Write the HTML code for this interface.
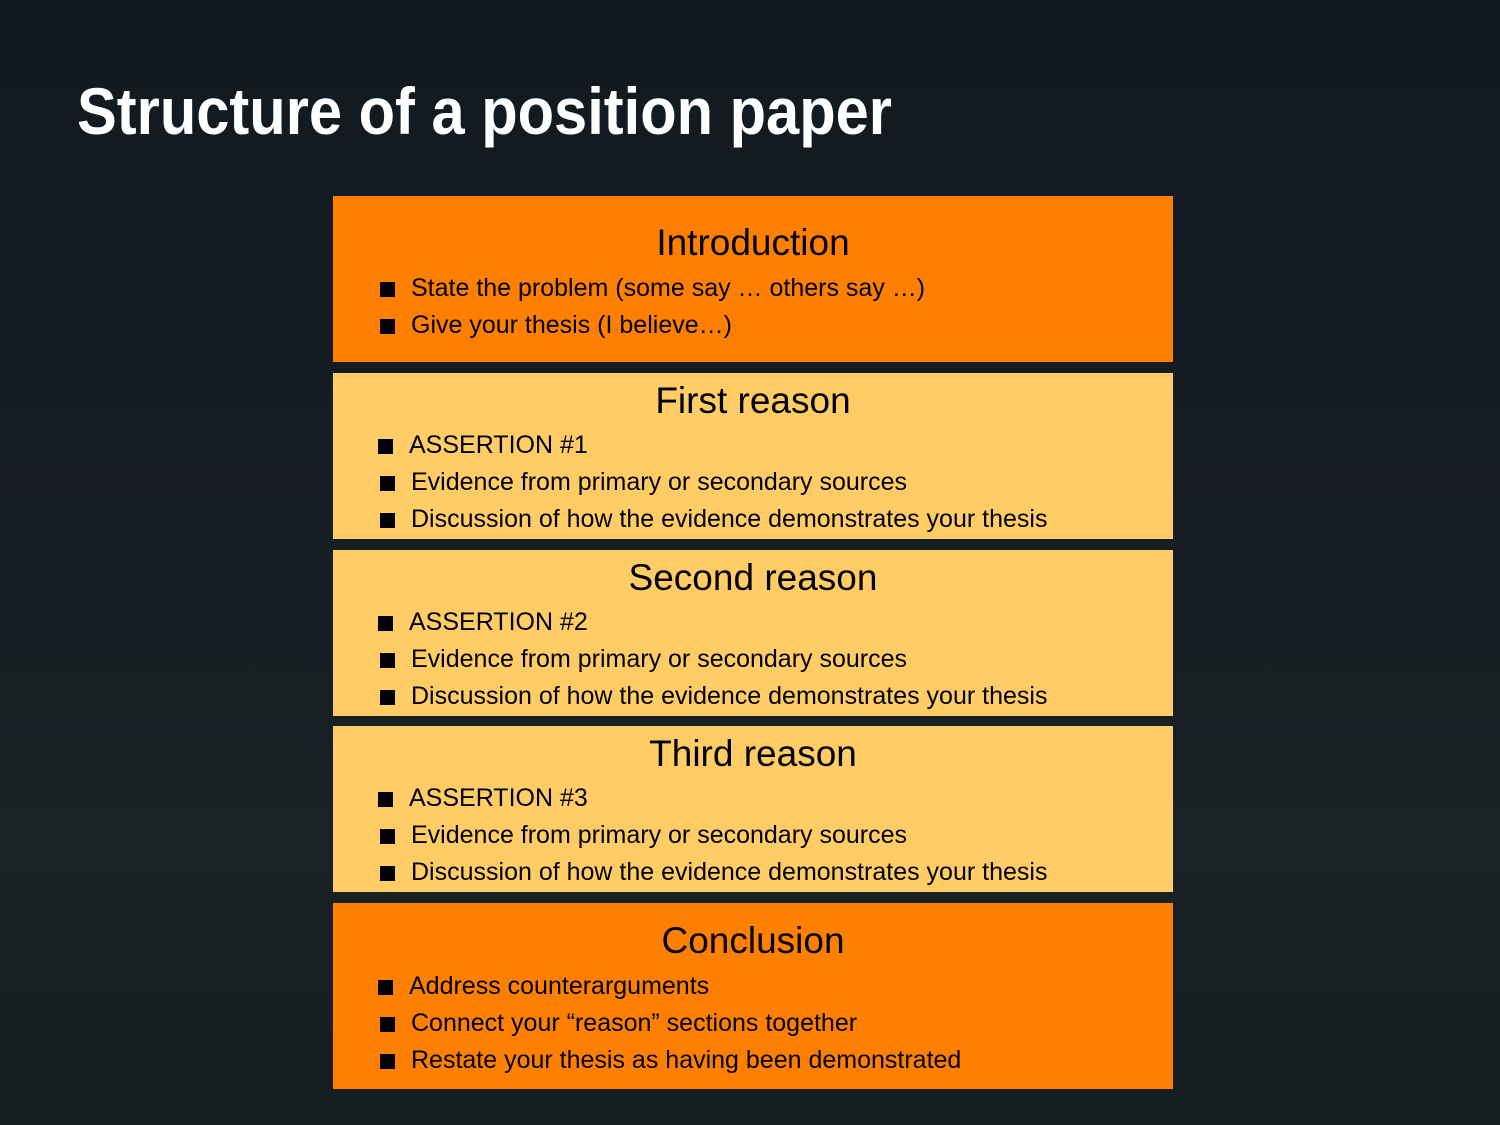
<!DOCTYPE html>
<html><head><meta charset="utf-8"><style>
html,body{margin:0;padding:0}
body{width:1500px;height:1125px;position:relative;overflow:hidden;background:linear-gradient(180deg,#121920 0%,#151c22 40%,#1a2226 75%,#161d21 100%);font-family:"Liberation Sans",Arial,sans-serif}
.box{position:absolute;left:333px;width:840px;color:#000}
.o{background:#ff8000}.y{background:#ffcc66}
.h{position:absolute;left:0;width:100%;text-align:center;font-size:37px;line-height:40px}
.b{position:absolute;left:78px;font-size:25px;line-height:30px;white-space:nowrap}
.b:before{content:"";position:absolute;left:-31px;top:9px;width:15px;height:15px;background:#000}
</style></head><body>
<svg style="position:absolute;left:0;top:0" width="1500" height="200">
<text x="77" y="134" font-family="Liberation Sans, sans-serif" font-size="66" font-weight="bold" fill="#fff" textLength="815" lengthAdjust="spacingAndGlyphs">Structure of a position paper</text>
</svg>

<div class="box o" style="top:196px;height:166px">
<div class="h" style="top:27px">Introduction</div>
<div class="b" style="top:77px">State the problem (some say … others say …)</div>
<div class="b" style="top:114px">Give your thesis (I believe…)</div>
</div>

<div class="box y" style="top:373px;height:166px">
<div class="h" style="top:8px">First reason</div>
<div class="b" style="top:57px;left:76px">ASSERTION #1</div>
<div class="b" style="top:94px">Evidence from primary or secondary sources</div>
<div class="b" style="top:131px">Discussion of how the evidence demonstrates your thesis</div>
</div>

<div class="box y" style="top:550px;height:166px">
<div class="h" style="top:8px">Second reason</div>
<div class="b" style="top:57px;left:76px">ASSERTION #2</div>
<div class="b" style="top:94px">Evidence from primary or secondary sources</div>
<div class="b" style="top:131px">Discussion of how the evidence demonstrates your thesis</div>
</div>

<div class="box y" style="top:726px;height:166px">
<div class="h" style="top:8px">Third reason</div>
<div class="b" style="top:57px;left:76px">ASSERTION #3</div>
<div class="b" style="top:94px">Evidence from primary or secondary sources</div>
<div class="b" style="top:131px">Discussion of how the evidence demonstrates your thesis</div>
</div>

<div class="box o" style="top:903px;height:186px">
<div class="h" style="top:18px">Conclusion</div>
<div class="b" style="top:68px;left:76px">Address counterarguments</div>
<div class="b" style="top:105px">Connect your “reason” sections together</div>
<div class="b" style="top:142px">Restate your thesis as having been demonstrated</div>
</div>
</body></html>
